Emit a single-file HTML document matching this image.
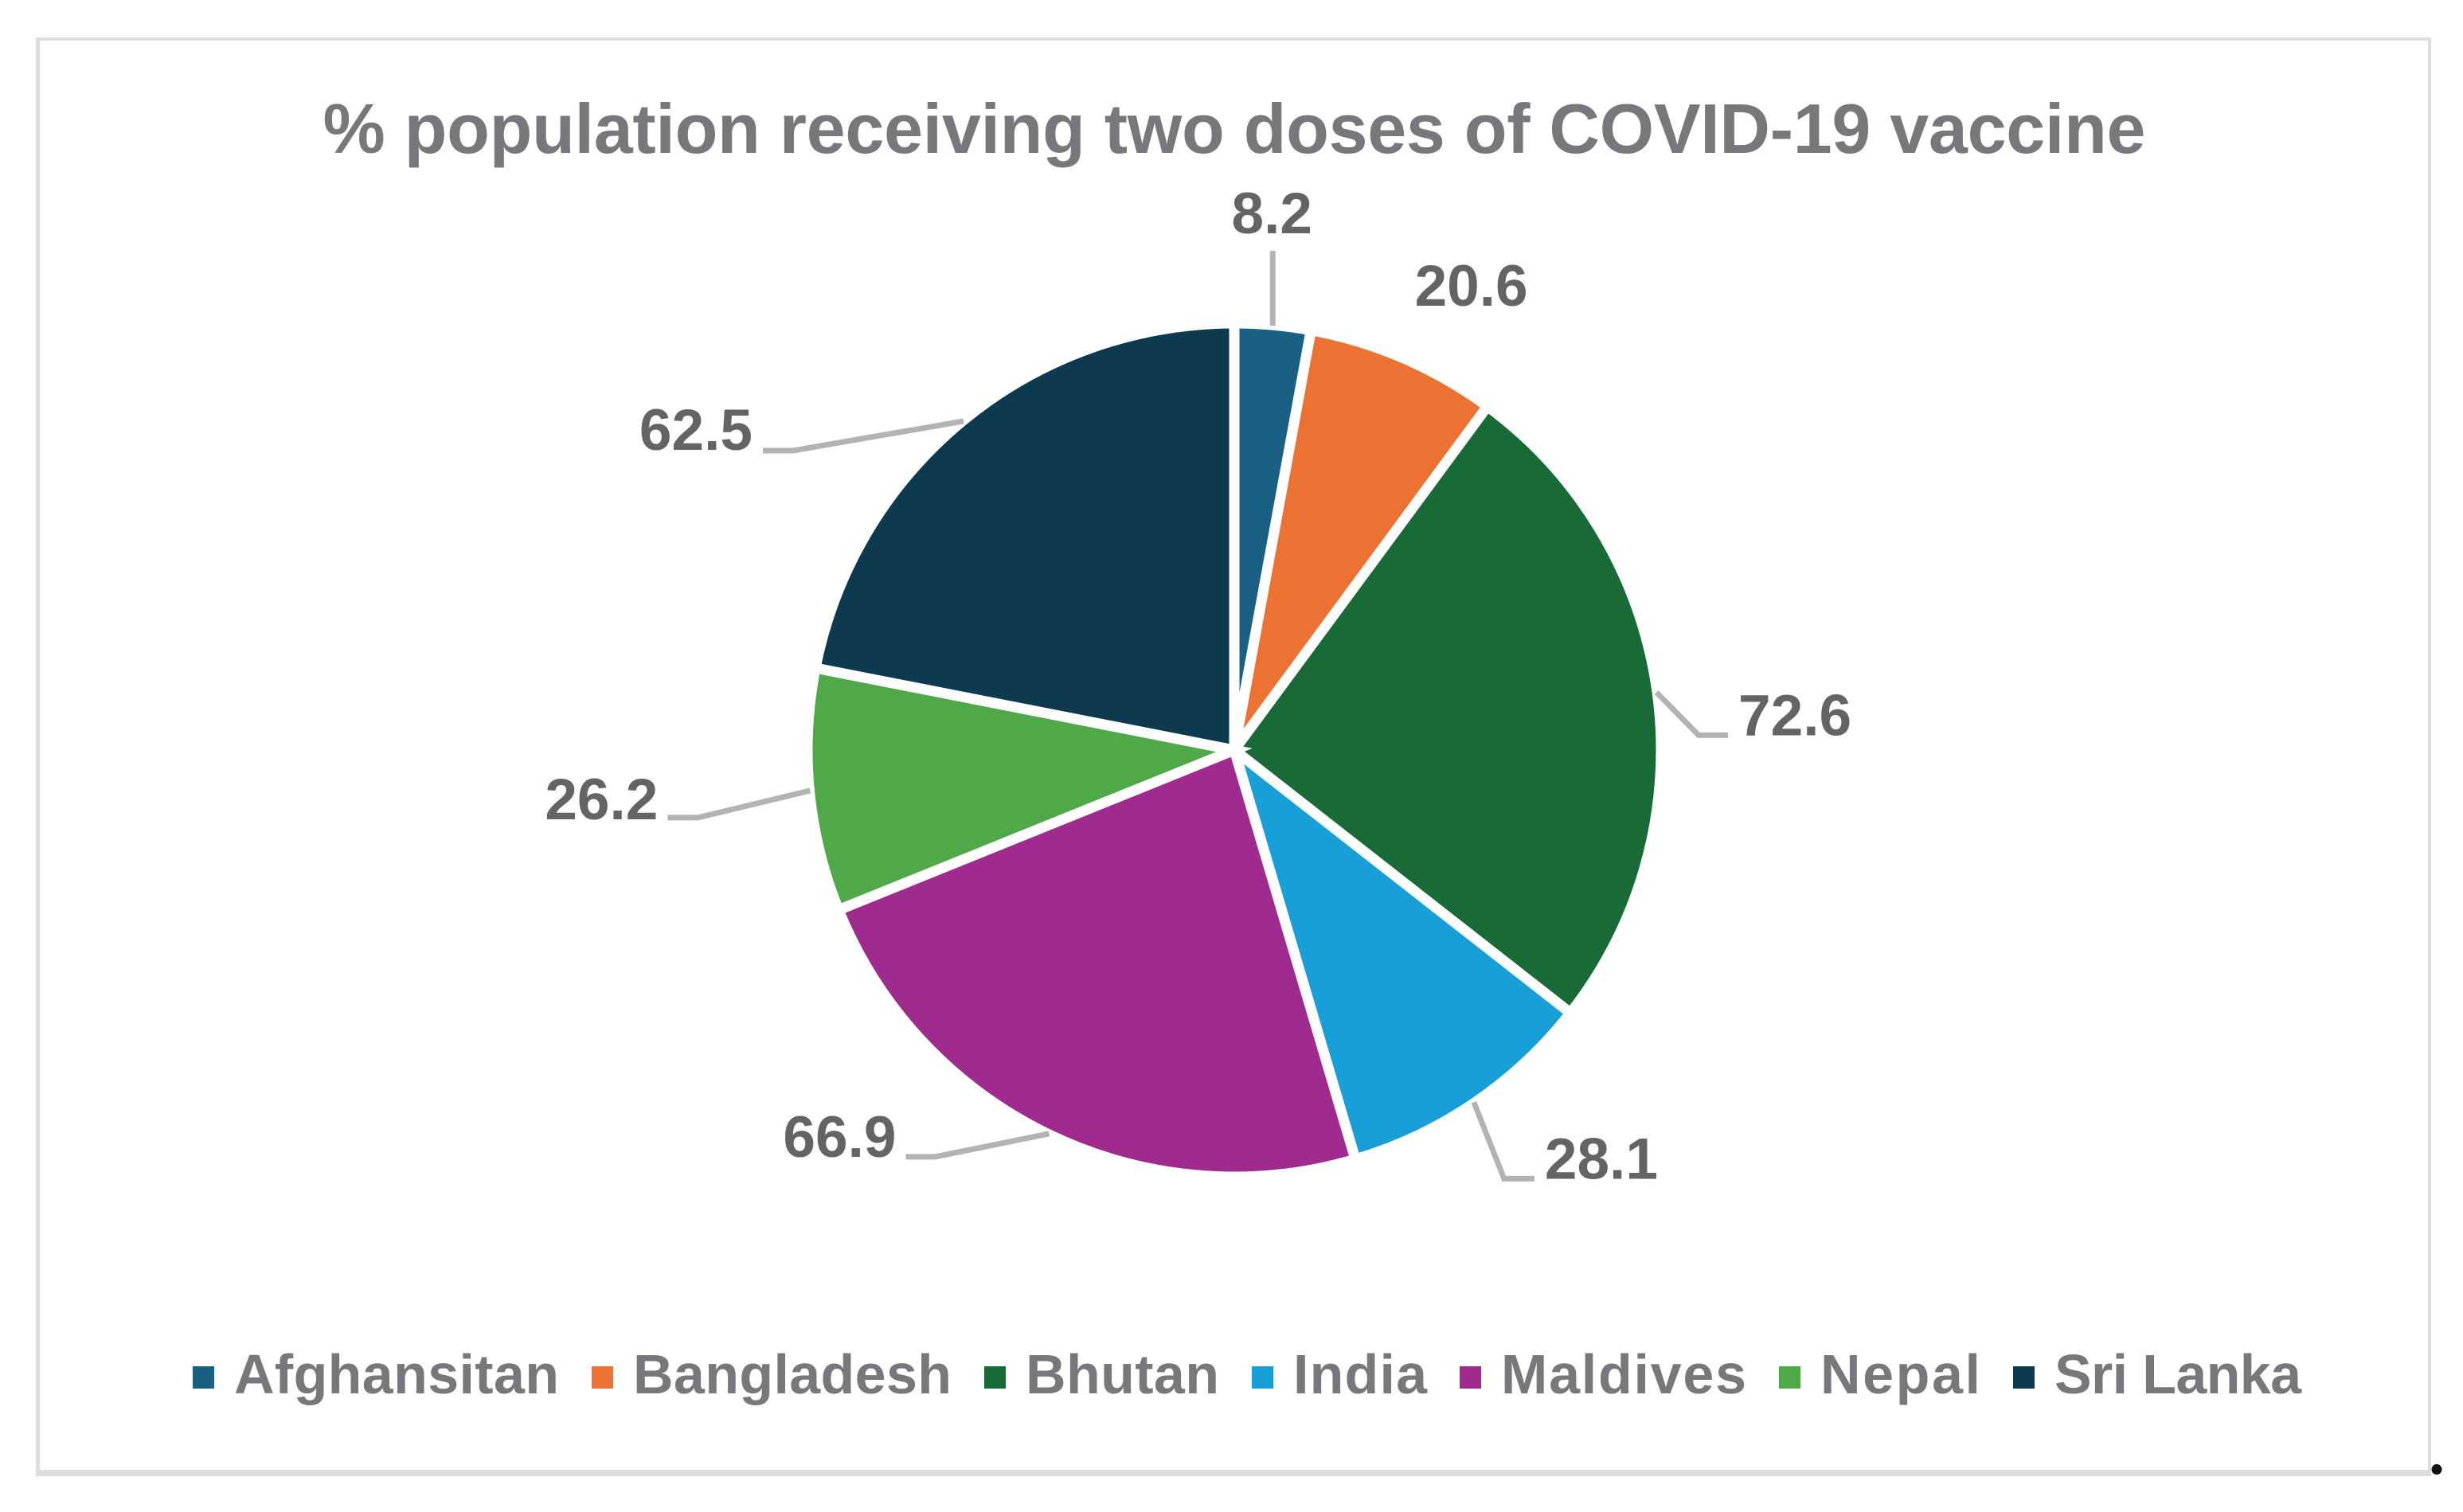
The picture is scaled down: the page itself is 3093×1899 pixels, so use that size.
<!DOCTYPE html>
<html lang="en">
<head>
<meta charset="utf-8">
<title>% population receiving two doses of COVID-19 vaccine</title>
<style>
  html, body { margin: 0; padding: 0; background: #ffffff; }
  svg { display: block; }
  text { font-family: "Liberation Sans", sans-serif; font-weight: 700; }
</style>
</head>
<body>
<svg id="chart" xmlns="http://www.w3.org/2000/svg" width="3093" height="1899" viewBox="0 0 3093 1899">
  <rect x="0" y="0" width="3093" height="1899" fill="#ffffff"/>
  <rect x="45" y="47" width="3008" height="4" fill="#dcddde"/>
  <rect x="45" y="47" width="5" height="1807" fill="#dcddde"/>
  <rect x="3049" y="47" width="4" height="1807" fill="#dcddde"/>
  <rect x="45" y="1846" width="3008" height="8" fill="#dcddde"/>
  <text x="1550" y="192" text-anchor="middle" font-size="88" fill="#77787b" textLength="2289" lengthAdjust="spacing">% population receiving two doses of COVID-19 vaccine</text>
  <g id="slices"></g>
  <g id="leaders"></g>
  <g id="labels"></g>
  <g id="legend"></g>
  <text x="3060" y="1851" text-anchor="middle" font-size="80" fill="#111111" style="font-family:'Liberation Serif',serif">.</text>
</svg>
<script>
const categories = ["Afghansitan", "Bangladesh", "Bhutan", "India", "Maldives", "Nepal", "Sri Lanka"];
const values = [8.2, 20.6, 72.6, 28.1, 66.9, 26.2, 62.5];
const sliceColors = ["#1a6082", "#ec7233", "#186b37", "#189fd7", "#9f2b8f", "#50a949", "#0e3a50"];

const NS = "http://www.w3.org/2000/svg";
const cx = 1550, cy = 942, radius = 536, anchorRadius = 535, gap = 13;
const total = values.reduce((a, b) => a + b, 0);

function angleOf(v) { return v / total * Math.PI * 2; }
function polar(a, r) { return [cx + r * Math.sin(a), cy - r * Math.cos(a)]; }

/* Callout layout, relative to the anchor at each slice's mid-angle */
function calloutFor(i) {
  switch (i) {
    case 0: return { elbow: [0, -94], stub: 0, label: [-1, -116], align: "middle" };
    case 1: return { elbow: null, stub: 0, label: [85.5, -67], align: "middle" };
    case 2: return { elbow: [53, 54], stub: 37, label: [103, 54], align: "start" };
    case 3: return { elbow: [38, 96], stub: 38, label: [89, 96], align: "start" };
    case 4: return { elbow: [-143, 29], stub: -37, label: [-192, 29], align: "end" };
    case 5: return { elbow: [-141, 34], stub: -38, label: [-191, 36], align: "end" };
    default: return { elbow: [-214, 37], stub: -38, label: [-265, 36], align: "end" };
  }
}

/* Legend text is stretched to the reference's wider typeface */
function legendTextWidth(i) {
  switch (i) {
    case 0: return 408;
    case 1: return 400;
    case 2: return 243;
    case 3: return 168;
    case 4: return 308;
    case 5: return 201;
    default: return 310;
  }
}

const sliceGroup = document.getElementById("slices");
const leaderGroup = document.getElementById("leaders");
const labelGroup = document.getElementById("labels");
const legendGroup = document.getElementById("legend");

let running = 0;
values.forEach(function (v, i) {
  const a0 = angleOf(running);
  const a1 = angleOf(running + v);
  const mid = (a0 + a1) / 2;
  running += v;
  const p0 = polar(a0, radius);
  const p1 = polar(a1, radius);
  const large = a1 - a0 > Math.PI ? 1 : 0;

  const slice = document.createElementNS(NS, "path");
  slice.setAttribute("d", "M" + cx + " " + cy + "L" + p0[0] + " " + p0[1] + "A" + radius + " " + radius + " 0 " + large + " 1 " + p1[0] + " " + p1[1] + "Z");
  slice.setAttribute("fill", sliceColors[i]);
  slice.setAttribute("stroke", "#ffffff");
  slice.setAttribute("stroke-width", gap);
  slice.setAttribute("stroke-linejoin", "miter");
  
  
  sliceGroup.appendChild(slice);

  const anchor = polar(mid, anchorRadius);
  const c = calloutFor(i);
  if (c.elbow) {
    const ex = anchor[0] + c.elbow[0], ey = anchor[1] + c.elbow[1];
    const line = document.createElementNS(NS, "polyline");
    line.setAttribute("points", anchor[0] + "," + anchor[1] + " " + ex + "," + ey + " " + (ex + c.stub) + "," + ey);
    line.setAttribute("fill", "none");
    line.setAttribute("stroke", "#b2b3b5");
    line.setAttribute("stroke-width", "7");
    
    
    leaderGroup.appendChild(line);
  }
  const label = document.createElementNS(NS, "text");
  label.setAttribute("x", anchor[0] + c.label[0]);
  label.setAttribute("y", anchor[1] + c.label[1]);
  label.setAttribute("text-anchor", c.align);
  label.setAttribute("font-size", "73");
  label.setAttribute("fill", "#636466");
  
  
  label.textContent = v.toFixed(1);
  labelGroup.appendChild(label);
});

/* Legend flows left to right from each entry's text width */
let legendX = 242;
categories.forEach(function (name, i) {
  const swatch = document.createElementNS(NS, "rect");
  swatch.setAttribute("x", legendX);
  swatch.setAttribute("y", 1716);
  swatch.setAttribute("width", 27);
  swatch.setAttribute("height", 28);
  swatch.setAttribute("fill", sliceColors[i]);
  
  
  legendGroup.appendChild(swatch);

  const w = legendTextWidth(i);
  const entry = document.createElementNS(NS, "text");
  entry.setAttribute("x", legendX + 52);
  entry.setAttribute("y", 1750);
  entry.setAttribute("font-size", "70");
  entry.setAttribute("fill", "#77787b");
  entry.setAttribute("textLength", w);
  entry.setAttribute("lengthAdjust", "spacing");
  
  
  entry.textContent = name;
  legendGroup.appendChild(entry);

  legendX += 52 + w + 41;
});
</script>
</body>
</html>
